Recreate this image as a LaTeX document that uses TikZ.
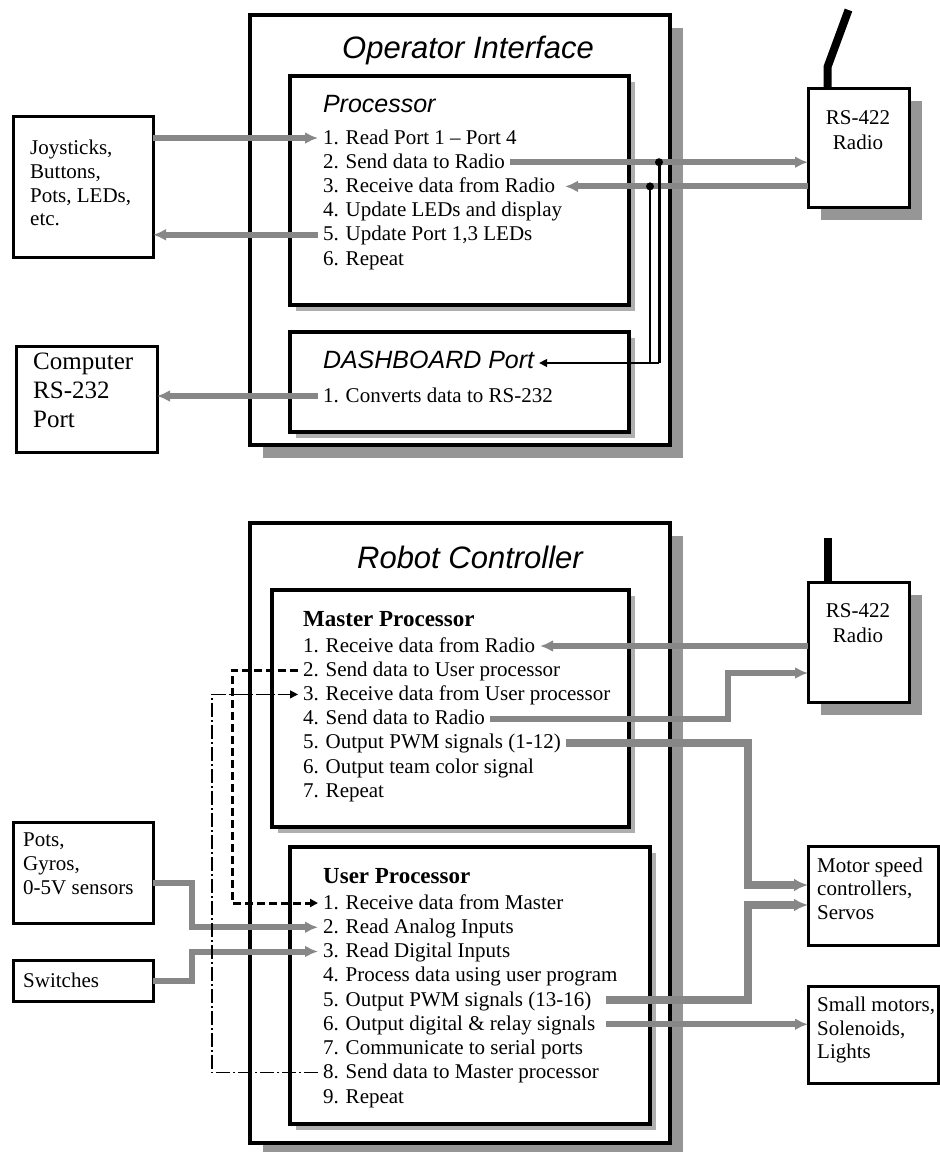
\documentclass[tikz,border=0pt]{standalone}
\usepackage{fontspec}
\setmainfont{Liberation Serif}
\newfontfamily\headfont{Liberation Sans}
\usetikzlibrary{arrows.meta,shadows}

\definecolor{flowgray}{RGB}{135,135,135}
\definecolor{bigshade}{RGB}{150,150,150}
\definecolor{smallshade}{RGB}{175,175,175}

\begin{document}
\begin{tikzpicture}[x=1pt,y=-1pt,
  panel/.style={draw, fill=white, line width=4pt, anchor=north west, inner sep=0pt, outer sep=0pt},
  unitbox/.style={draw, fill=white, line width=3pt, anchor=north west, inner sep=0pt, outer sep=0pt},
  deepshadow/.style={drop shadow={shadow xshift=13pt, shadow yshift=-13pt, fill=bigshade, opacity=1}},
  thinshadow/.style={drop shadow={shadow xshift=6pt, shadow yshift=-6pt, fill=smallshade, opacity=1}},
  title/.style={font=\headfont\itshape\fontsize{31}{36}\selectfont, inner sep=0pt},
  subhead/.style={font=\headfont\itshape\fontsize{25}{30}\selectfont, anchor=base west, inner sep=0pt, outer sep=5pt},
  boldhead/.style={font=\bfseries\fontsize{23}{26}\selectfont, anchor=base west, inner sep=0pt},
  listline/.style={font=\fontsize{21}{24}\selectfont, anchor=base west, inner sep=0pt, outer sep=5pt, text height=15pt, text depth=3pt},
  boxtext/.style={font=\fontsize{21}{23.7}\selectfont, align=left, anchor=north west, inner sep=0pt},
  flow/.style={draw=flowgray, line width=6pt},
  flowarrow/.style={flow, -{Latex[length=13pt,width=12pt]}},
  pwm/.style={draw=flowgray, line width=8pt, -{Latex[length=14pt,width=13pt]}},
  blackarrow/.style={-{Triangle[length=8pt,width=8pt]}},
]
\useasboundingbox (0,0) rectangle (940,1152);

% ---------------- Operator Interface ----------------
\node[panel, deepshadow, minimum width=420pt, minimum height=430pt] (oi) at (250,15) {};
\node[panel, thinshadow, minimum width=339pt, minimum height=229pt] (proc) at (290,76) {};
\node[panel, thinshadow, minimum width=339pt, minimum height=100pt] (dash) at (290,332) {};
\node[title] (oit) at (468,50) {Operator Interface};

\node[subhead] (ph) at (318,112) {Processor};
\foreach \txt [count=\i] in {{1. Read Port 1 \textendash\ Port 4},{2. Send data to Radio},
  {3. Receive data from Radio},{4. Update LEDs and display},{5. Update Port 1,3 LEDs},{6. Repeat}}
  \node[listline] (p\i) at (318,{144+24.2*(\i-1)}) {\txt};

\node[subhead] (dh) at (318,368) {DASHBOARD Port};
\node[listline] (d1) at (318,402) {1. Converts data to RS-232};

\node[unitbox, minimum width=140pt, minimum height=141pt] (joy) at (13,116) {};
\node[boxtext] (joytext) at (30,140) {Joysticks,\\Buttons,\\Pots, LEDs,\\etc.};

\node[unitbox, minimum width=141pt, minimum height=106pt] (comp) at (16,346) {};
\node[boxtext, font=\fontsize{25}{29}\selectfont] (comptext) at (33,353) {Computer\\RS-232\\Port};

\node[unitbox, deepshadow, minimum width=101pt, minimum height=119pt] (radio) at (808,88) {};
\node[boxtext, align=center, anchor=north, font=\fontsize{21}{25}\selectfont] (radiotext) at (858,110) {RS-422\\Radio};
\draw[line width=8pt] ([xshift=-31pt]radio.north) -- ++(0,-21) -- ++(21,-57);

% connectors
\draw[flowarrow] (joy.east |- p1) -- (p1.west);
\draw[flowarrow] (p5.west) -- (joy.east |- p5);
\draw[flowarrow] (p2.east) -- (radio.west |- p2);
\draw[flowarrow] (radio.west |- p3) -- ([xshift=5pt]p3.east);
\draw[flowarrow] (d1.west) -- (comp.east |- d1);

\path (659,0) coordinate (vx1) (650,0) coordinate (vx2);
\coordinate (j1) at (vx1 |- p2.east);
\coordinate (j2) at (vx2 |- p3.east);
\coordinate (dport) at ([yshift=5pt]dh.base east);
\draw[line width=3pt] (j1) -- (j1 |- dport);
\draw[line width=1.5pt] (j2) -- (j2 |- dport);
\draw[line width=1.5pt, blackarrow] (j1 |- dport) -- (dport);
\fill (j1) circle (4pt);
\fill (j2) circle (4pt);

% ---------------- Robot Controller ----------------
\node[panel, deepshadow, minimum width=420pt, minimum height=620pt] (rc) at (250,523) {};
\node[panel, thinshadow, minimum width=357pt, minimum height=237pt] (mp) at (272,590) {};
\node[panel, thinshadow, minimum width=360pt, minimum height=277pt] (up) at (290,847) {};
\node[title] (rct) at (470,557) {Robot Controller};

\node[boldhead] (mh) at (303,626) {Master Processor};
\foreach \txt [count=\i] in {{1. Receive data from Radio},{2. Send data to User processor},
  {3. Receive data from User processor},{4. Send data to Radio},{5. Output PWM signals (1-12)},
  {6. Output team color signal},{7. Repeat}}
  \node[listline] (m\i) at (298,{652+24.2*(\i-1)}) {\txt};

\node[boldhead] (uh) at (323,883) {User Processor};
\foreach \txt [count=\i] in {{1. Receive data from Master},{2. Read Analog Inputs},
  {3. Read Digital Inputs},{4. Process data using user program},{5. Output PWM signals (13-16)},
  {6. Output digital \& relay signals},{7. Communicate to serial ports},
  {8. Send data to Master processor},{9. Repeat}}
  \node[listline] (u\i) at (318,{909+24.25*(\i-1)}) {\txt};

\node[unitbox, deepshadow, minimum width=101pt, minimum height=120pt] (radio2) at (808,582) {};
\node[boxtext, align=center, anchor=north, font=\fontsize{21}{25}\selectfont] (radio2text) at (858,603) {RS-422\\Radio};
\draw[line width=8pt] ([xshift=-30.5pt]radio2.north) -- ++(0,-44);

\node[unitbox, minimum width=130pt, minimum height=99pt] (motor) at (808,846) {};
\node[boxtext, font=\fontsize{21}{23.5}\selectfont] (motortext) at (817,857.5) {Motor speed\\controllers,\\Servos};
\node[unitbox, minimum width=130pt, minimum height=97pt] (small) at (808,986) {};
\node[boxtext, font=\fontsize{21}{23.5}\selectfont] (smalltext) at (817,997) {Small motors,\\Solenoids,\\Lights};

\node[unitbox, minimum width=140pt, minimum height=101pt] (pots) at (13,822) {};
\node[boxtext, font=\fontsize{21}{24}\selectfont] (potstext) at (23,833) {Pots,\\Gyros,\\0-5V sensors};
\node[unitbox, minimum width=140pt, minimum height=41pt] (sw) at (13,960) {};
\node[boxtext] (swtext) at (23,973) {Switches};

% connectors
\draw[flowarrow] (radio2.west |- m1) -- (m1.east);
\coordinate (k4) at (728,673);
\draw[flowarrow] (m4.east) -| (k4) -- (k4 -| radio2.west);
\coordinate (k5) at (748,885);
\draw[pwm] (m5.east) -| (k5) -- (k5 -| motor.west);
\coordinate (k6) at (748,905);
\draw[pwm] ([xshift=10pt]u5.east) -| (k6) -- (k6 -| motor.west);
\draw[flowarrow] ([xshift=6pt]u6.east) -- (u6.east -| small.west);

\draw[flowarrow] ([yshift=-10pt]pots.east) -- ++(39,0) |- (u2.west);
\draw[flowarrow] (sw.east) -- ++(39,0) |- (u3.west);

\draw[line width=3pt, dash pattern=on 8pt off 4pt, blackarrow] (m2.west) -- ++(-66,0) |- (u1.west);
\draw[line width=1.2pt, dash pattern=on 14pt off 3pt on 2pt off 3pt, blackarrow] (u8.west) -- ++(-106,0) |- (m3.west);
\end{tikzpicture}
\end{document}
